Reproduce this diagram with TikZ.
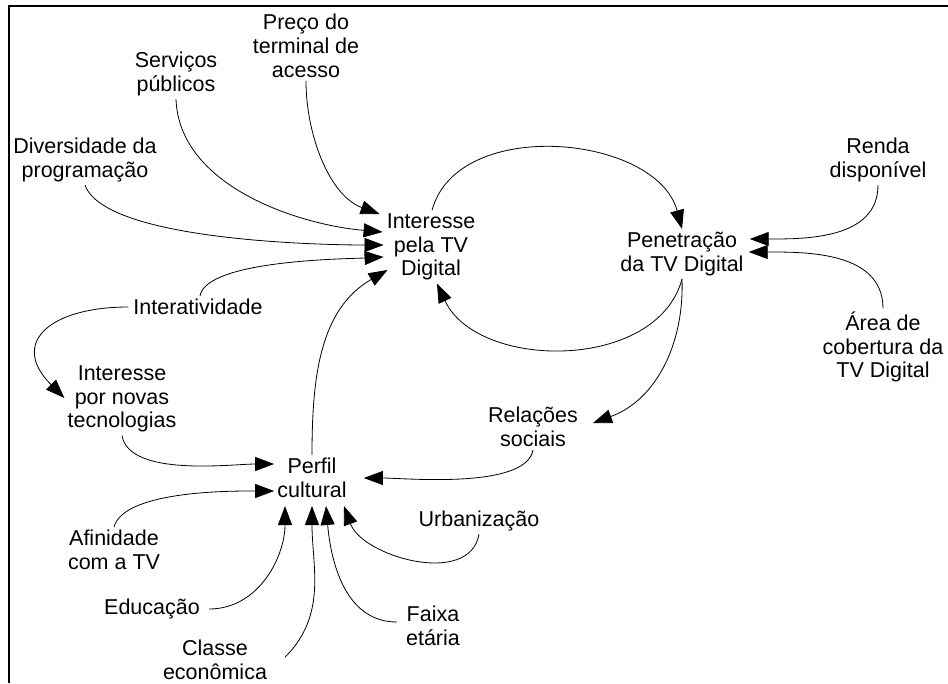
\documentclass[tikz,border=0pt]{standalone}
\usepackage{fontspec}
\setmainfont{Liberation Sans}
\usetikzlibrary{arrows.meta, positioning}

\begin{document}
\begin{tikzpicture}[
    x=1pt, y=-1pt,
    factor/.style={align=center, inner sep=3pt, font=\fontsize{21.5}{23.8}\selectfont},
    arrow/.style={-{Triangle[length=19pt,width=14pt]}, line width=0.8pt, draw=black},
]
\useasboundingbox (0,0) rectangle (948,683);
\draw[line width=1.2pt] (9,683) -- (9,6) -- (948,6);

\node[factor] (preco) at (306,46) {Preço do\\terminal de\\acesso};
\node[factor] (serv) at (176,74) {Serviços\\públicos};
\node[factor] (div) at (85,160) {Diversidade da\\programação};
\node[factor] (int) at (431,247) {Interesse\\pela TV\\Digital};
\node[factor] (pen) at (682,254) {Penetração\\da TV Digital};
\node[factor] (renda) at (878,160) {Renda\\disponível};
\node[factor] (area) at (883,347) {Área de\\cobertura da\\TV Digital};
\node[factor] (interat) at (198,307) {Interatividade};
\node[factor] (novas) at (122,399) {Interesse\\por novas\\tecnologias};
\node[factor] (rel) at (533,427) {Relações\\sociais};
\node[factor] (perfil) at (312,478) {Perfil\\cultural};
\node[factor] (urb) at (479,521) {Urbanização};
\node[factor] (afin) at (114,550) {Afinidade\\com a TV};
\node[factor] (educ) at (152,609) {Educação};
\node[factor] (faixa) at (433,626) {Faixa\\etária};
\node[factor] (classe) at (215,660) {Classe\\econômica};

% into Interesse pela TV Digital
\draw[arrow] (preco.south) to[out=-90, in=160, looseness=0.9] ([xshift=-4pt,yshift=33pt]int.west);
\draw[arrow] (serv.south) to[out=-88, in=175, looseness=0.9] ([xshift=-1pt,yshift=15pt]int.west);
\draw[arrow] (div.south) to[out=-70, in=180, looseness=0.5] ([yshift=2pt]int.west);
\draw[arrow] ([xshift=2pt]interat.north) to[out=80, in=183, looseness=0.5] ([yshift=-10pt]int.west);
\draw[arrow] (perfil.north) to[out=90, in=210] ([xshift=4pt,yshift=-23pt]int.west);

% the loop
\draw[arrow] ([xshift=1pt]int.north) to[out=75, in=105] (pen.north);
\draw[arrow] (pen.south) to[out=-105, in=-65] ([xshift=6pt]int.south);

% into Penetracao
\draw[arrow] (renda.south) to[out=-90, in=0] ([xshift=3pt,yshift=15pt]pen.east);
\draw[arrow] (area.north) to[out=90, in=0] ([xshift=2pt,yshift=2pt]pen.east);

\draw[arrow] (pen.south) to[out=-88, in=20] ([xshift=12pt,yshift=4pt]rel.east);
\draw[arrow] ([xshift=-2pt]interat.west) to[out=180, in=135, looseness=1.8] ([yshift=1pt]novas.west);

% into Perfil cultural
\draw[arrow] (novas.south) to[out=-80, in=180, looseness=0.7] ([yshift=14pt]perfil.west);
\draw[arrow] (rel.south) to[out=-100, in=0, looseness=0.6] ([xshift=14pt]perfil.east);
\draw[arrow] (afin.north) to[out=75, in=180, looseness=0.6] ([yshift=-13pt]perfil.west);
\draw[arrow] ([xshift=6pt]educ.east) to[out=0, in=-90] ([xshift=-27pt,yshift=-5pt]perfil.south);
\draw[arrow] ([xshift=15pt,yshift=3pt]classe.east) to[out=45, in=-90] ([yshift=-5pt]perfil.south);
\draw[arrow] ([xshift=-6pt,yshift=4pt]faixa.west) to[out=180, in=-85] ([xshift=14pt,yshift=-5pt]perfil.south);
\draw[arrow] (urb.south) to[out=-100, in=-70] ([xshift=32pt,yshift=-5pt]perfil.south);

\end{tikzpicture}
\end{document}
